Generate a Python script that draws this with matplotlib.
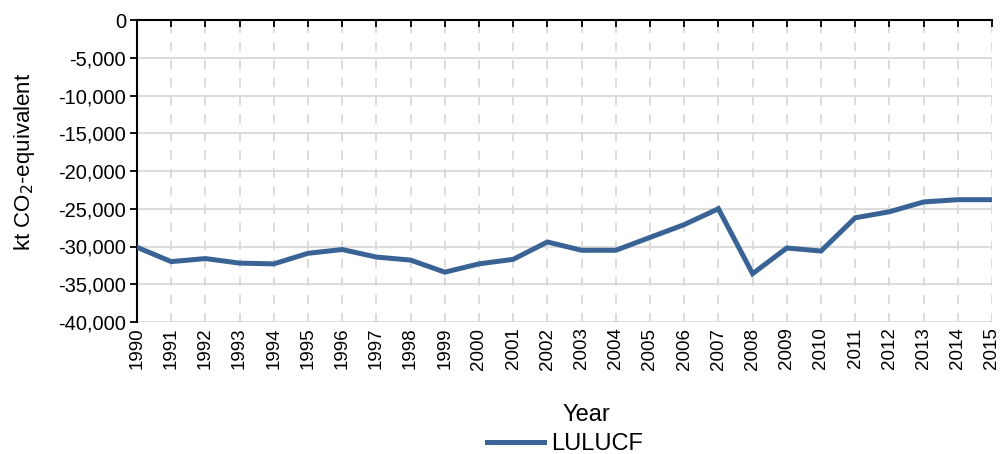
import numpy as np
import matplotlib
matplotlib.use("Agg")
import matplotlib.pyplot as plt
from matplotlib.ticker import MultipleLocator, FuncFormatter

plt.rcParams['font.family'] = ['Liberation Sans', 'DejaVu Sans']

# LULUCF emissions/removals (kt CO2-equivalent)
years = list(range(1990, 2016))
lulucf = [-30100, -32000, -31600, -32200, -32300, -30900, -30400, -31400,
          -31800, -33400, -32300, -31700, -29400, -30500, -30500, -28800,
          -27100, -25000, -33600, -30200, -30600, -26200, -25400, -24100,
          -23800, -23800]

fig = plt.figure(figsize=(10, 4.54), dpi=100)
ax = fig.add_axes([0.137, 1 - 322/454, 0.855, 302/454])

line, = ax.plot(years, lulucf, '-', lw=3.6, color='#3A6395',
                solid_joinstyle='miter', label='LULUCF', zorder=3)

ax.set_xlim(1990, 2015)
ax.set_ylim(-40000, 0)
ax.yaxis.set_major_locator(MultipleLocator(5000))
ax.yaxis.set_major_formatter(FuncFormatter(lambda v, p: f"{int(v):,}"))
ax.set_xticks(years)
ax.set_xticklabels([str(y) for y in years], rotation=90, fontsize=13.5)

# grid: solid horizontal, dashed vertical
ax.grid(axis='y', color='#D9D9D9', lw=1.3, ls='-', zorder=0)
ax.grid(axis='x', color='#D9D9D9', lw=1.3, ls=(0, (5, 5)), zorder=0)

# category axis sits at zero (top), labels at the bottom
ax.spines['right'].set_visible(False)
ax.spines['bottom'].set_visible(False)
ax.spines['top'].set_linewidth(1.5)
ax.spines['left'].set_linewidth(1.5)
ax.tick_params(axis='x', top=True, bottom=False, labelbottom=True,
               direction='in', length=5, width=1.3, pad=4)
ax.tick_params(axis='y', direction='out', length=5, width=1.3,
               labelsize=14.5, pad=3)

ax.set_ylabel("kt CO$_2$-equivalent", fontsize=16)
ax.yaxis.set_label_coords(-0.117, 0.53)
ax.set_xlabel("Year", fontsize=17)
ax.xaxis.set_label_coords(0.526, -0.27)

fig.legend(handles=[line], loc='center', bbox_to_anchor=(0.565, 1 - 444/454),
           frameon=False, fontsize=17, handlelength=2.4, handletextpad=0.3,
           borderaxespad=0)

fig.savefig('out.png', dpi=100)
